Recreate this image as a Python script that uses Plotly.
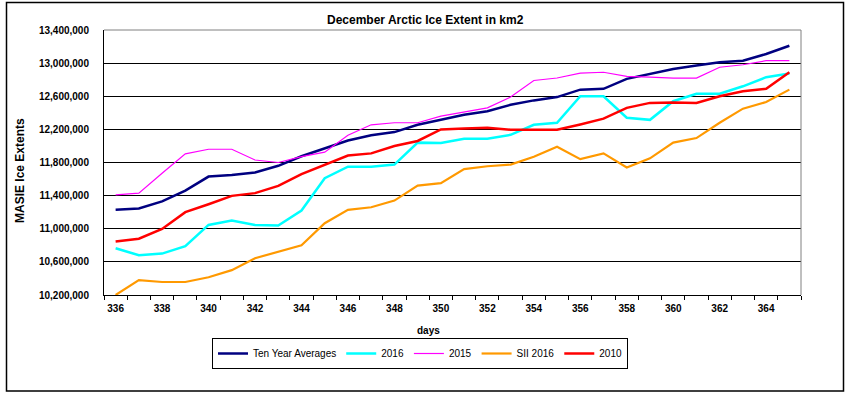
import plotly.graph_objects as go

days = list(range(336, 366))

ten_year_avg = [11230000, 11245000, 11330000, 11460000, 11630000, 11650000, 11680000, 11760000,
                11875000, 11970000, 12065000, 12130000, 12167000, 12255000, 12320000, 12376000,
                12420000, 12497000, 12550000, 12590000, 12680000, 12690000, 12810000, 12870000,
                12930000, 12970000, 13010000, 13030000, 13110000, 13210000]
y2016 = [10765000, 10680000, 10700000, 10790000, 11046000, 11100000, 11046000, 11040000,
         11220000, 11610000, 11750000, 11750000, 11775000, 12040000, 12035000, 12086000,
         12086000, 12134000, 12255000, 12280000, 12600000, 12600000, 12340000, 12315000,
         12540000, 12630000, 12630000, 12720000, 12830000, 12875000]
y2015 = [11410000, 11430000, 11670000, 11905000, 11960000, 11960000, 11830000, 11800000,
         11870000, 11925000, 12130000, 12255000, 12280000, 12280000, 12360000, 12410000,
         12460000, 12590000, 12790000, 12820000, 12880000, 12890000, 12840000, 12830000,
         12820000, 12820000, 12950000, 12980000, 13030000, 13030000]
sii2016 = [10200000, 10380000, 10357000, 10357000, 10414000, 10500000, 10644000, 10724000,
           10800000, 11067000, 11228000, 11260000, 11340000, 11520000, 11550000, 11720000,
           11755000, 11775000, 11870000, 11990000, 11840000, 11910000, 11740000, 11850000,
           12040000, 12095000, 12280000, 12450000, 12530000, 12680000]
y2010 = [10845000, 10880000, 10998000, 11200000, 11296000, 11397000, 11430000, 11518000,
         11660000, 11775000, 11884000, 11910000, 12000000, 12060000, 12200000, 12210000,
         12220000, 12195000, 12195000, 12195000, 12260000, 12330000, 12460000, 12520000,
         12525000, 12520000, 12600000, 12660000, 12690000, 12890000]

x_tick_vals = list(range(336, 366, 2))
y_tick_vals = list(range(10200000, 13400001, 400000))

series = [
    ("Ten Year Averages", ten_year_avg, "#000080", 2.5),
    ("2016", y2016, "#00FFFF", 2.5),
    ("2015", y2015, "#FF00FF", 1.2),
    ("SII 2016", sii2016, "#FF9900", 2.2),
    ("2010", y2010, "#FF0000", 2.5),
]

fig = go.Figure()
for name, vals, color, w in series:
    fig.add_trace(go.Scatter(x=days, y=vals, mode="lines", name=name,
                             line=dict(color=color, width=w)))

L, R, T, B = 104, 60, 30, 99
W, H = 861, 394
pw, ph = W - L - R, H - T - B

def px(x):
    return (x - L) / pw

def py(y):
    return (H - B - y) / ph

font_family = "Liberation Sans, Arial, sans-serif"

fig.update_layout(
    width=W, height=H,
    margin=dict(l=L, r=R, t=T, b=B, pad=0, autoexpand=False),
    paper_bgcolor="white", plot_bgcolor="white",
    font=dict(family=font_family, size=10, color="black"),
    showlegend=True,
    legend=dict(orientation="h", x=px(420), y=py(353.5), xanchor="center", yanchor="middle",
                bordercolor="black", borderwidth=1, bgcolor="white",
                font=dict(size=10, color="black"), itemwidth=30, tracegroupgap=0),
    xaxis=dict(range=[335.5, 365.5], tickmode="array", tickvals=x_tick_vals,
               ticks="", showgrid=False, zeroline=False,
               showline=True, linecolor="black", linewidth=1,
               ticklabelstandoff=4,
               tickfont=dict(size=10, color="black", family=font_family, weight="bold"),
               minor=dict(ticks="outside", ticklen=4, tickcolor="black", tickwidth=1,
                          tick0=335.5, dtick=1, showgrid=False)),
    yaxis=dict(range=[10200000, 13400000], tickmode="array", tickvals=y_tick_vals,
               tickformat=",d", showgrid=True, gridcolor="black", gridwidth=1,
               zeroline=False, showline=True, linecolor="black", linewidth=1,
               ticks="", ticklabelstandoff=12,
               tickfont=dict(size=10, color="black", family=font_family, weight="bold")),
    annotations=[
        dict(text="<b>December Arctic Ice Extent in km2</b>", x=px(425), y=py(20.5),
             xref="paper", yref="paper", showarrow=False, xanchor="center", yanchor="middle",
             font=dict(size=12, color="black")),
        dict(text="<b>MASIE Ice Extents</b>", x=px(20), y=py(171), textangle=-90,
             xref="paper", yref="paper", showarrow=False, xanchor="center", yanchor="middle",
             font=dict(size=12, color="black")),
        dict(text="<b>days</b>", x=px(428.5), y=py(330), xref="paper", yref="paper",
             showarrow=False, xanchor="center", yanchor="middle",
             font=dict(size=10, color="black")),
    ],
    shapes=[
        dict(type="line", xref="paper", yref="paper", x0=0, x1=1, y0=1, y1=1,
             line=dict(color="#808080", width=1)),
        dict(type="line", xref="paper", yref="paper", x0=1, x1=1, y0=0, y1=1,
             line=dict(color="#808080", width=1)),
        dict(type="rect", xref="paper", yref="paper", x0=px(6.5), x1=px(843.5),
             y0=py(391), y1=py(2.5), line=dict(color="black", width=1.5),
             fillcolor="rgba(0,0,0,0)", layer="below"),
    ],
)

fig.write_html("out.html", config={"displayModeBar": False},
               post_script="document.body.style.margin='0';")
